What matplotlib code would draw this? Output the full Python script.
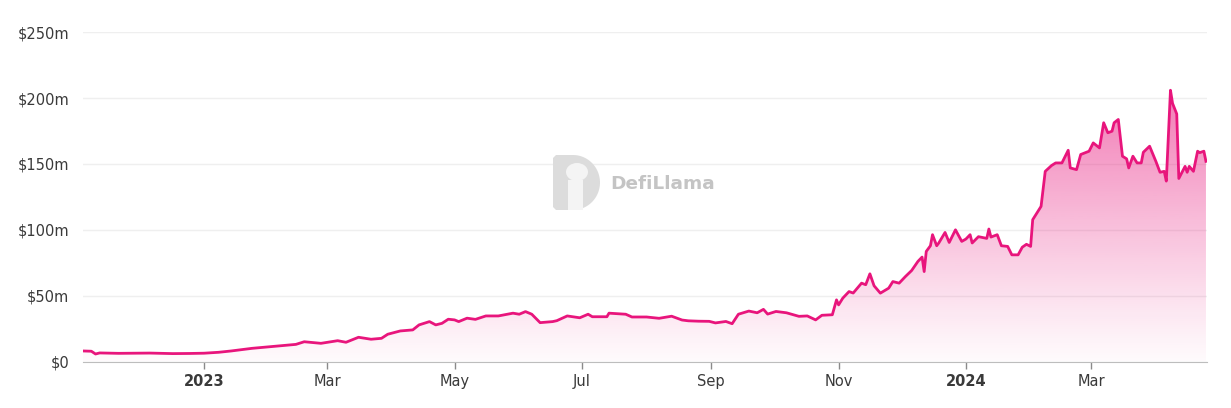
import matplotlib
matplotlib.use("Agg")
import matplotlib.pyplot as plt
import matplotlib.dates as mdates
from matplotlib.path import Path
from matplotlib.patches import PathPatch, Rectangle, Ellipse
import numpy as np
import pandas as pd

# series (values in $m)
dates = [
    "2022-11-04", "2022-11-08", "2022-11-10", "2022-11-12", "2022-11-21", "2022-12-06",
    "2022-12-17", "2022-12-25", "2023-01-01", "2023-01-08", "2023-01-14", "2023-01-24",
    "2023-02-02", "2023-02-14", "2023-02-18", "2023-02-26", "2023-03-06", "2023-03-10",
    "2023-03-16", "2023-03-22", "2023-03-27", "2023-03-30", "2023-04-05", "2023-04-11",
    "2023-04-14", "2023-04-19", "2023-04-22", "2023-04-25", "2023-04-28", "2023-05-01",
    "2023-05-03", "2023-05-07", "2023-05-11", "2023-05-16", "2023-05-22", "2023-05-29",
    "2023-06-01", "2023-06-04", "2023-06-07", "2023-06-11", "2023-06-17", "2023-06-19",
    "2023-06-24", "2023-06-30", "2023-07-04", "2023-07-06", "2023-07-13", "2023-07-14",
    "2023-07-22", "2023-07-25", "2023-08-01", "2023-08-07", "2023-08-13", "2023-08-18",
    "2023-08-21", "2023-08-26", "2023-08-31", "2023-09-03", "2023-09-08", "2023-09-11",
    "2023-09-14", "2023-09-19", "2023-09-23", "2023-09-26", "2023-09-28", "2023-10-02",
    "2023-10-07", "2023-10-13", "2023-10-17", "2023-10-21", "2023-10-24", "2023-10-29",
    "2023-10-31", "2023-11-01", "2023-11-03", "2023-11-06", "2023-11-08", "2023-11-12",
    "2023-11-14", "2023-11-16", "2023-11-18", "2023-11-21", "2023-11-25", "2023-11-27",
    "2023-11-30", "2023-12-03", "2023-12-06", "2023-12-09", "2023-12-11", "2023-12-12",
    "2023-12-13", "2023-12-15", "2023-12-16", "2023-12-18", "2023-12-19", "2023-12-22",
    "2023-12-24", "2023-12-27", "2023-12-30", "2024-01-01", "2024-01-03", "2024-01-04",
    "2024-01-07", "2024-01-11", "2024-01-12", "2024-01-13", "2024-01-16", "2024-01-18",
    "2024-01-21", "2024-01-23", "2024-01-26", "2024-01-28", "2024-01-30", "2024-02-01",
    "2024-02-02", "2024-02-04", "2024-02-06", "2024-02-08", "2024-02-11", "2024-02-13",
    "2024-02-16", "2024-02-19", "2024-02-20", "2024-02-23", "2024-02-25", "2024-02-29",
    "2024-03-02", "2024-03-05", "2024-03-07", "2024-03-09", "2024-03-11", "2024-03-12",
    "2024-03-14", "2024-03-16", "2024-03-18", "2024-03-19", "2024-03-21", "2024-03-23",
    "2024-03-25", "2024-03-26", "2024-03-29", "2024-04-01", "2024-04-03", "2024-04-05",
    "2024-04-06", "2024-04-08", "2024-04-09", "2024-04-10", "2024-04-11", "2024-04-12",
    "2024-04-15", "2024-04-16", "2024-04-17", "2024-04-19", "2024-04-21", "2024-04-22",
    "2024-04-24", "2024-04-25",
]
values = [
    8.0, 7.8, 5.7, 6.5, 6.2, 6.4,
    6.0, 6.1, 6.3, 7.0, 8.0, 10.0,
    11.3, 13.0, 15.0, 13.8, 15.8, 14.6,
    18.4, 16.9, 17.6, 20.7, 23.2, 24.0,
    27.8, 30.3, 27.8, 29.0, 32.1, 31.6,
    30.3, 32.9, 32.0, 34.6, 34.6, 36.7,
    35.9, 37.9, 35.9, 29.5, 30.3, 31.0,
    34.6, 33.2, 35.9, 34.0, 34.0, 36.7,
    35.9, 33.8, 33.8, 32.8, 34.4, 31.5,
    30.9, 30.6, 30.5, 29.3, 30.4, 28.7,
    35.9, 38.3, 37.0, 39.6, 36.0, 38.0,
    37.0, 34.3, 34.6, 31.6, 35.1, 35.5,
    46.8, 43.0, 48.1, 53.1, 52.0, 59.5,
    58.3, 66.6, 57.5, 51.9, 55.7, 60.7,
    59.5, 64.5, 69.1, 76.0, 79.3, 68.3,
    83.6, 87.9, 96.3, 87.9, 90.0, 98.0,
    90.4, 100.0, 91.2, 93.0, 96.3, 90.0,
    94.8, 93.5, 100.6, 94.5, 96.3, 87.9,
    87.4, 81.0, 81.0, 86.8, 89.0, 87.4,
    107.7, 112.8, 117.8, 144.4, 148.8, 150.8,
    150.8, 160.4, 147.0, 145.7, 157.2, 159.7,
    166.0, 162.2, 181.3, 173.7, 174.9, 181.3,
    183.8, 155.9, 153.9, 147.0, 155.9, 150.8,
    150.8, 158.9, 163.5, 152.0, 143.7, 144.4,
    137.0, 206.0, 196.0, 192.0, 188.0, 139.0,
    148.2, 143.7, 148.2, 144.4, 159.7, 158.6,
    159.7, 152.0,
]

tick_dates = ["2023-01-01", "2023-03-01", "2023-05-01", "2023-07-01", "2023-09-01",
              "2023-11-01", "2024-01-01", "2024-03-01"]
tick_labels = ["2023", "Mar", "May", "Jul", "Sep", "Nov", "2024", "Mar"]
y_ticks = [0, 50, 100, 150, 200, 250]
y_labels = ["$0", "$50m", "$100m", "$150m", "$200m", "$250m"]

line_color = "#e8157c"

x = pd.to_datetime(dates)
y = np.array(values)

fig = plt.figure(figsize=(12.31, 4.08), dpi=100)
ax = fig.add_axes([83 / 1231, 46.5 / 408, 1124 / 1231, 329.2 / 408])

# gradient fill under the line
fill = ax.fill_between(x, y, 0, color="none", lw=0)
grad = np.linspace(0, 1, 256).reshape(-1, 1)
rgba = np.zeros((256, 1, 4))
rgba[..., :3] = matplotlib.colors.to_rgb(line_color)
rgba[..., 3] = 0.02 + 0.55 * grad ** 1.1
xnum = mdates.date2num(x)
img = ax.imshow(rgba, origin="lower", aspect="auto",
                extent=[xnum[0], xnum[-1], 0, y.max()], zorder=1)
img.set_clip_path(fill.get_paths()[0], transform=ax.transData)

ax.plot(x, y, color=line_color, lw=2, zorder=3, solid_joinstyle="round")

ax.set_xlim(pd.Timestamp("2022-11-04"), pd.Timestamp("2024-04-25 12:00"))
ax.set_ylim(0, 250)

ax.set_yticks(y_ticks)
ax.set_yticklabels(y_labels)
ax.set_xticks(pd.to_datetime(tick_dates))
ax.set_xticklabels(tick_labels)
for lbl in ax.get_xticklabels():
    if lbl.get_text() in ("2023", "2024"):
        lbl.set_fontweight("bold")
        lbl.set_color("#222222")

ax.grid(axis="y", color="#efefef", lw=1)
ax.set_axisbelow(True)
for s in ["top", "right", "left"]:
    ax.spines[s].set_visible(False)
ax.spines["bottom"].set_color("#bdbdbd")
ax.tick_params(axis="y", length=0, pad=10, labelsize=10.5, labelcolor="#3a3a3a")
ax.tick_params(axis="x", length=5, width=1, color="#8a8a8a", pad=4,
               labelsize=10.5, labelcolor="#3a3a3a")

# DefiLlama watermark, placed in figure pixels
px = matplotlib.transforms.Affine2D().scale(1 / 1231, 1 / 408) + fig.transFigure
top, bot = 408 - 155, 408 - 210
cyl = (top + bot) / 2
rad = (top - bot) / 2
t = np.linspace(np.pi / 2, -np.pi / 2, 40)
verts = [(556, top), (573, top)] + [(573 + 27 * np.cos(a), cyl + rad * np.sin(a)) for a in t] + \
        [(556, bot), (553, bot + 3), (553, top - 3), (556, top)]
ax.add_patch(PathPatch(Path(verts), transform=px, facecolor="#dcdcdc",
                       edgecolor="none", zorder=2, clip_on=False))
# llama silhouette
ax.add_patch(Rectangle((568, bot), 15, 30, transform=px, facecolor="#f4f4f4",
                       edgecolor="none", zorder=2, clip_on=False))
ax.add_patch(Ellipse((577, 408 - 172), 22, 18, transform=px, facecolor="#f4f4f4",
                     edgecolor="none", zorder=2, clip_on=False))
ax.text(610, 408 - 184, "DefiLlama", transform=px, fontsize=13.3,
        fontweight="bold", color="#c4c4c4", va="center", ha="left", zorder=2)

fig.savefig("out.png", dpi=100, facecolor="white")
